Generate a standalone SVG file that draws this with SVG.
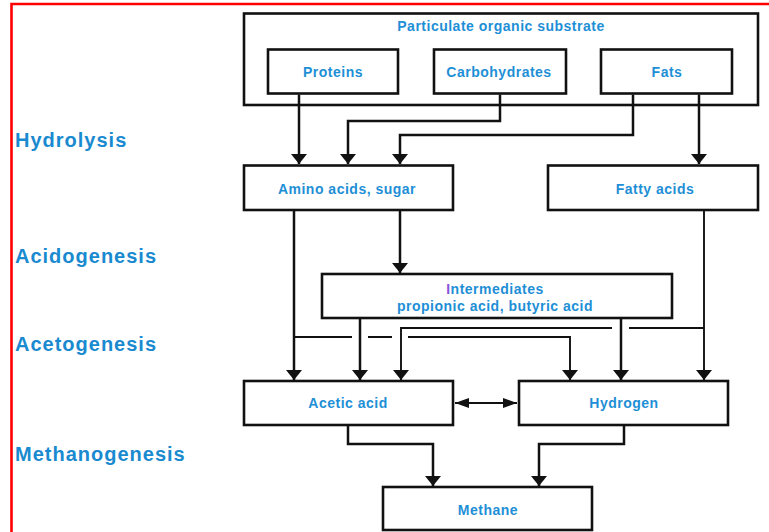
<svg xmlns="http://www.w3.org/2000/svg" width="769" height="532" viewBox="0 0 769 532">
  <style>
    .box { fill: #ffffff; stroke: #111111; stroke-width: 2.6; }
    .lbl { font-family: "Liberation Sans", Arial, sans-serif; font-weight: bold; font-size: 14px; letter-spacing: 0.5px; fill: #1e8fd6; text-anchor: middle; }
    .stage { font-family: "Liberation Sans", Arial, sans-serif; font-weight: bold; font-size: 20px; letter-spacing: 1px; fill: #1a8ad0; }
    .con { fill: none; stroke: #111111; stroke-width: 2.5; }
    .thin { fill: none; stroke: #111111; stroke-width: 1.9; }
  </style>
  <defs>
    <marker id="arr" viewBox="0 0 10 16" markerWidth="10" markerHeight="16" refX="10" refY="8" orient="auto" markerUnits="userSpaceOnUse">
      <path d="M0,0 L10,8 L0,16 z" fill="#111111"/>
    </marker>
    <marker id="arrs" viewBox="0 0 14 10" markerWidth="14" markerHeight="10" refX="14" refY="5" orient="auto-start-reverse" markerUnits="userSpaceOnUse">
      <path d="M0,0 L14,5 L0,10 z" fill="#111111"/>
    </marker>
  </defs>

  <rect width="769" height="532" fill="#ffffff"/>
  <path d="M11.5,532 V4 H769" fill="none" stroke="#ff0000" stroke-width="2.6"/>

  <g id="stages">
    <text class="stage" x="15" y="147">Hydrolysis</text>
    <text class="stage" x="15" y="263">Acidogenesis</text>
    <text class="stage" x="15" y="351">Acetogenesis</text>
    <text class="stage" x="15" y="461">Methanogenesis</text>
  </g>

  <g id="substrate">
    <rect class="box" x="244" y="13.5" width="514" height="91.5"/>
    <text class="lbl" x="501" y="31">Particulate organic substrate</text>
  </g>
  <g id="proteins">
    <rect class="box" x="268" y="49.5" width="130" height="44"/>
    <text class="lbl" x="333" y="77">Proteins</text>
  </g>
  <g id="carbohydrates">
    <rect class="box" x="434" y="49.5" width="132" height="44"/>
    <text class="lbl" x="499" y="77">Carbohydrates</text>
  </g>
  <g id="fats">
    <rect class="box" x="601" y="49.5" width="131" height="44"/>
    <text class="lbl" x="667" y="77">Fats</text>
  </g>
  <g id="amino">
    <rect class="box" x="244" y="165.5" width="209" height="44.5"/>
    <text class="lbl" x="347" y="194">Amino acids, sugar</text>
  </g>
  <g id="fatty">
    <rect class="box" x="548" y="165.5" width="210" height="44.5"/>
    <text class="lbl" x="655" y="194">Fatty acids</text>
  </g>
  <g id="intermediates">
    <rect class="box" x="322" y="274" width="350" height="44"/>
    <text class="lbl" x="495" y="294"><tspan fill="#8a55d8">I</tspan>ntermediates</text>
    <text class="lbl" x="495" y="311">propionic acid, butyric acid</text>
  </g>
  <g id="acetic">
    <rect class="box" x="244" y="381" width="209" height="44"/>
    <text class="lbl" x="348" y="408">Acetic acid</text>
  </g>
  <g id="hydrogen">
    <rect class="box" x="519" y="381" width="209" height="44"/>
    <text class="lbl" x="624" y="408">Hydrogen</text>
  </g>
  <g id="methane">
    <rect class="box" x="383" y="487" width="209" height="43"/>
    <text class="lbl" x="488" y="515">Methane</text>
  </g>

  <g id="connectors">
    <path class="con" d="M299,94.5 V164" marker-end="url(#arr)"/>
    <path class="con" d="M500,94.5 V121 H348 V164" marker-end="url(#arr)"/>
    <path class="con" d="M633,94.5 V135 H400 V164" marker-end="url(#arr)"/>
    <path class="con" d="M699,94.5 V164" marker-end="url(#arr)"/>
    <path class="con" d="M294,211 V380" marker-end="url(#arr)"/>
    <path class="con" d="M400,211 V273" marker-end="url(#arr)"/>
    <path class="con" d="M360,319 V380" marker-end="url(#arr)"/>
    <path class="thin" d="M704,211 V380" marker-end="url(#arr)"/>
    <path class="thin" d="M704,328 H629"/>
    <path class="thin" d="M612,328 H401 V380" marker-end="url(#arr)"/>
    <path class="thin" d="M294,337 H352 M368,337 H392"/>
    <path class="thin" d="M408,337 H570 V380" marker-end="url(#arr)"/>
    <path class="con" d="M621,319 V380" marker-end="url(#arr)"/>
    <path class="thin" d="M455,403 H517" marker-start="url(#arrs)" marker-end="url(#arrs)"/>
    <path class="con" d="M348,426 V444 H433 V486" marker-end="url(#arr)"/>
    <path class="con" d="M624,426 V444 H539 V486" marker-end="url(#arr)"/>
  </g>
</svg>
